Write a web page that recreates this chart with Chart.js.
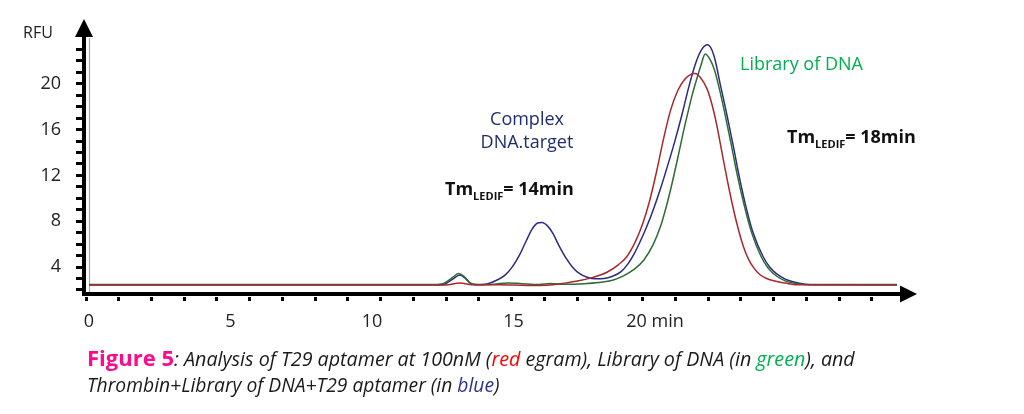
<!DOCTYPE html>
<html><head><meta charset="utf-8">
<script src="https://cdn.jsdelivr.net/npm/chart.js@4.4.1/dist/chart.umd.min.js"></script>
<style>
html,body{margin:0;padding:0;background:#fff;}
#wrap{position:relative;width:1024px;height:414px;overflow:hidden;font-family:'Open Sans',sans-serif;}
#c{position:absolute;left:0;top:0;}
.t{position:absolute;white-space:nowrap;line-height:1;}
.sub{font-size:11px;position:relative;top:5px;}
</style></head><body>
<div id="wrap">
<canvas id="c" width="1024" height="414"></canvas>
<div class="t" style="left:23px;top:24px;font-size:16px;color:#222">RFU</div>
<div class="t" style="left:527px;top:109px;font-size:18px;color:#1f2d6e;transform:translateX(-50%)">Complex</div>
<div class="t" style="left:527px;top:132px;font-size:18px;color:#1f2d6e;transform:translateX(-50%)">DNA.target</div>
<div class="t" style="left:445px;top:179px;font-size:18px;font-weight:700;color:#111">Tm<span class="sub">LEDIF</span>= 14min</div>
<div class="t" style="left:787px;top:127px;font-size:18px;font-weight:700;color:#111">Tm<span class="sub">LEDIF</span>= 18min</div>
<div class="t" style="left:740px;top:54px;font-size:18px;color:#00b050">Library of DNA</div>
<div class="t" style="left:87px;top:346px;line-height:22px"><span style="font-weight:700;font-size:22px;color:#ff0a8c">Figure 5</span><span style="font-style:italic;font-size:19.7px;color:#1a1a1a">: Analysis of T29 aptamer at 100nM (<span style="color:#ff0000">red</span> egram), Library of DNA (in <span style="color:#00b050">green</span>), and</span></div>
<div class="t" style="left:87px;top:375px;font-size:19.3px;font-style:italic;color:#1a1a1a">Thrombin+Library of DNA+T29 aptamer (in <span style="color:#2e3192">blue</span>)</div>
</div>
<script>
// ---- data (time in min, fluorescence in RFU) ----
const minuteTicks = [0, 5, 10, 15, 20];
const minuteLabels = ['0', '5', '10', '15', '20 min'];
const rfuLabels = [4, 8, 12, 16, 20];
const rfuTickMarks = [2,3,4,5,6,7,8,9,10,11,12,13,14,15,16,17,18,19,20,21,22,23];

const bluePoints = [ // Thrombin + Library of DNA + T29 aptamer
  [0,2.45],[12.3,2.45],[12.6,2.55],[12.85,2.95],[13.1,3.3],[13.3,3.0],[13.5,2.55],[13.8,2.45],
  [14.1,2.55],[14.4,2.85],[14.7,3.3],[14.95,4.0],[15.2,5.0],[15.45,6.3],[15.65,7.3],[15.85,7.85],
  [16.0,7.9],[16.2,7.6],[16.4,6.9],[16.6,5.9],[16.85,4.8],[17.1,3.95],[17.35,3.4],[17.6,3.12],
  [17.9,2.98],[18.2,3.0],[18.5,3.2],[18.8,3.6],[19.05,4.3],[19.25,5.1],[19.45,6.1],[19.7,7.5],
  [19.95,9.1],[20.2,10.9],[20.45,12.9],[20.7,15.0],[20.95,17.3],[21.2,19.8],[21.45,21.9],
  [21.65,23.0],[21.85,23.4],[22.0,23.0],[22.12,22.1],[22.3,20.0],[22.53,17.4],[22.77,14.5],
  [23.0,11.6],[23.24,9.0],[23.47,6.95],[23.82,4.9],[24.05,4.0],[24.3,3.4],[24.6,2.95],
  [24.9,2.7],[25.3,2.5],[25.7,2.45],[28.55,2.45]
];
const greenPoints = [ // Library of DNA
  [0,2.47],[12.3,2.47],[12.55,2.6],[12.85,3.1],[13.05,3.45],[13.25,3.2],[13.45,2.65],[13.7,2.47],
  [14.3,2.5],[14.8,2.62],[15.3,2.55],[15.9,2.48],[16.3,2.56],[16.8,2.5],[17.5,2.55],[18.0,2.65],
  [18.5,2.85],[18.9,3.25],[19.23,3.75],[19.6,4.6],[19.94,6.0],[20.2,7.6],[20.41,9.4],[20.6,11.3],
  [20.8,13.5],[21.0,15.8],[21.17,17.6],[21.32,19.1],[21.47,20.4],[21.62,21.6],[21.77,22.6],
  [21.95,22.1],[22.1,21.2],[22.25,19.8],[22.45,17.6],[22.7,14.6],[22.9,12.1],[23.15,9.4],
  [23.4,7.1],[23.75,4.9],[24.0,3.9],[24.3,3.2],[24.6,2.8],[24.9,2.6],[25.3,2.48],[28.55,2.47]
];
const redPoints = [ // T29 aptamer at 100nM
  [0,2.43],[12.6,2.43],[13.1,2.6],[13.6,2.45],[14.5,2.45],[15.5,2.4],[16.2,2.42],[16.8,2.6],
  [17.3,2.8],[17.8,3.1],[18.3,3.55],[18.7,4.2],[19.0,4.9],[19.3,6.2],[19.55,7.7],[19.8,9.7],
  [20.05,12.3],[20.3,15.2],[20.55,17.7],[20.8,19.4],[21.05,20.4],[21.25,20.8],[21.42,20.9],
  [21.6,20.55],[21.83,19.6],[22.0,18.3],[22.18,16.4],[22.41,13.4],[22.65,10.4],[22.89,7.8],
  [23.12,5.8],[23.3,4.7],[23.47,4.0],[23.7,3.35],[23.94,3.0],[24.3,2.75],[24.65,2.58],
  [25.1,2.45],[28.55,2.43]
];
// decorative dotted minor ticks on the time axis
const xDotStart = -0.124, xDotStep = 1.157, xDotCount = 25;

const toXY = pts => pts.map(p => ({x: p[0], y: p[1]}));

const axisDecor = {
  id: 'axisDecor',
  beforeDatasetsDraw(chart) {
    const {ctx, chartArea: a, scales: {x}} = chart;
    const x0 = Math.round(x.getPixelForValue(0)) + 0.5;
    ctx.save();
    ctx.strokeStyle = '#a8a8a8'; ctx.lineWidth = 1.2;
    ctx.beginPath(); ctx.moveTo(x0, a.top); ctx.lineTo(x0, a.bottom - 2); ctx.stroke();
    ctx.restore();
  },
  afterDraw(chart) {
    const {ctx, chartArea: a, scales: {x}} = chart;
    ctx.save();
    ctx.fillStyle = '#000';
    ctx.fillRect(a.left - 2, a.bottom - 2, 4, 4);
    ctx.beginPath();
    ctx.moveTo(a.left, a.top - 19); ctx.lineTo(a.left - 9, a.top - 1); ctx.lineTo(a.left + 9, a.top - 1);
    ctx.closePath(); ctx.fill();
    ctx.beginPath();
    ctx.moveTo(a.right + 16, a.bottom); ctx.lineTo(a.right - 1, a.bottom - 8.5); ctx.lineTo(a.right - 1, a.bottom + 8.5);
    ctx.closePath(); ctx.fill();
    for (let k = 0; k < xDotCount; k++) {
      const px = x.getPixelForValue(xDotStart + k * xDotStep);
      ctx.fillRect(Math.round(px) - 1, a.bottom + 3, 3, 4);
    }
    ctx.restore();
  }
};

const lineDs = (label, pts, color) => ({
  label, data: toXY(pts), borderColor: color, borderWidth: 1.5,
  pointRadius: 0, fill: false, cubicInterpolationMode: 'monotone'
});

new Chart(document.getElementById('c'), {
  type: 'line',
  data: {
    datasets: [
      lineDs('T29 aptamer 100nM', redPoints, '#a8282e'),
      lineDs('Library of DNA', greenPoints, '#2e6b35'),
      lineDs('Thrombin+Library of DNA+T29 aptamer', bluePoints, '#2b2b83')
    ]
  },
  options: {
    responsive: false, animation: false,
    layout: {padding: {left: 0, top: 38, right: 123, bottom: 0}},
    plugins: {legend: {display: false}, tooltip: {enabled: false}},
    scales: {
      x: {
        type: 'linear', min: -0.177, max: 28.69,
        afterBuildTicks: s => { s.ticks = minuteTicks.map(v => ({value: v})); },
        afterFit: s => { s.height = 120; },
        ticks: {
          autoSkip: false, maxRotation: 0, padding: 17, color: '#222',
          font: {family: 'Open Sans', size: 18},
          callback: v => minuteLabels[minuteTicks.indexOf(v)]
        },
        grid: {display: false, drawTicks: false},
        border: {display: true, color: '#000', width: 4}
      },
      y: {
        type: 'linear', min: 1.65, max: 24,
        afterBuildTicks: s => { s.ticks = rfuTickMarks.map(v => ({value: v})); },
        afterFit: s => { s.width = 84; },
        ticks: {
          autoSkip: false, padding: 15, color: '#222',
          font: {family: 'Open Sans', size: 18},
          callback: v => rfuLabels.includes(v) ? String(v) : ''
        },
        grid: {display: true, drawOnChartArea: false, drawTicks: true, tickLength: 8, tickWidth: 3, tickColor: '#000'},
        border: {display: true, color: '#000', width: 4}
      }
    }
  },
  plugins: [axisDecor]
});
</script>
</body></html>
